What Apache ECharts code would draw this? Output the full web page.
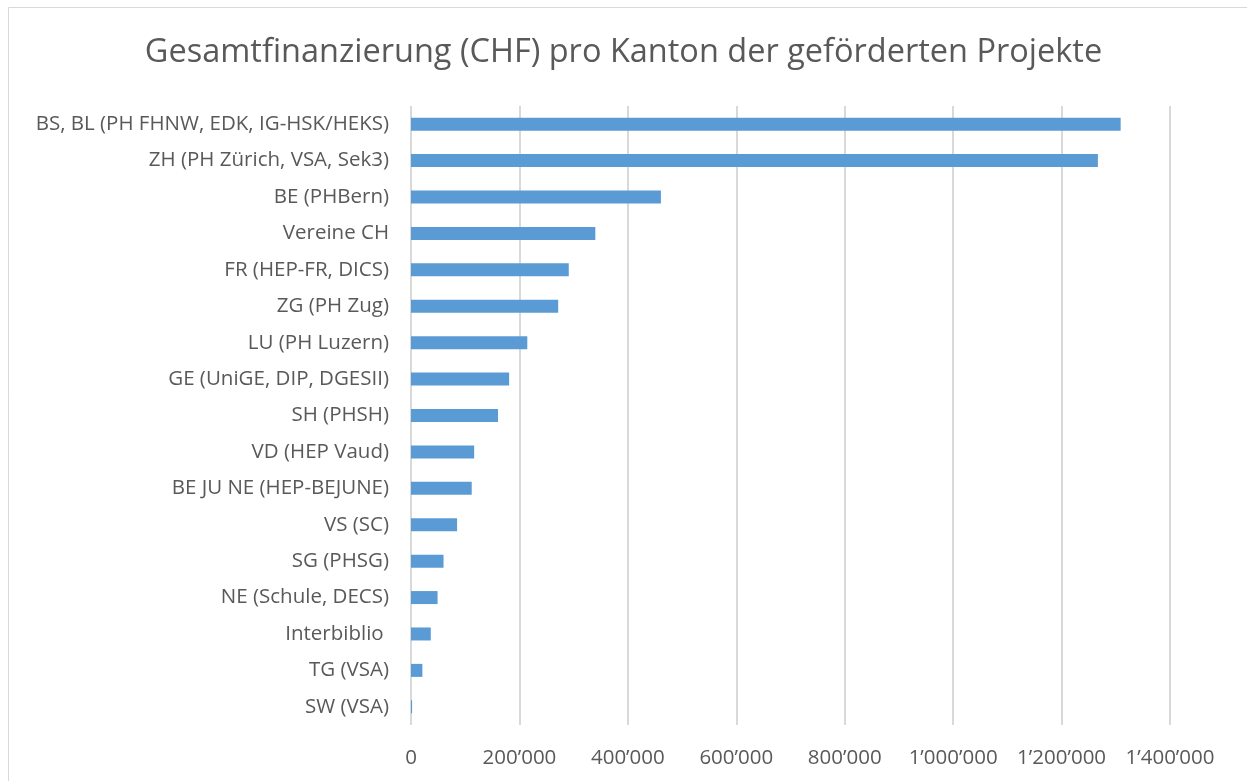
<!DOCTYPE html>
<html>
<head>
<meta charset="utf-8">
<script src="https://cdn.jsdelivr.net/npm/echarts@6/dist/echarts.min.js"></script>
<style>html,body{margin:0;padding:0;background:#fff}#c{width:1247px;height:781px}</style>
</head>
<body>
<div id="c"></div>
<script>
const categories = [
  "BS, BL (PH FHNW, EDK, IG-HSK/HEKS)",
  "ZH (PH Zürich, VSA, Sek3)",
  "BE (PHBern)",
  "Vereine CH",
  "FR (HEP-FR, DICS)",
  "ZG (PH Zug)",
  "LU (PH Luzern)",
  "GE (UniGE, DIP, DGESII)",
  "SH (PHSH)",
  "VD (HEP Vaud)",
  "BE JU NE (HEP-BEJUNE)",
  "VS (SC)",
  "SG (PHSG)",
  "NE (Schule, DECS)",
  "Interbiblio ",
  "TG (VSA)",
  "SW (VSA)"
];
const values = [1309000, 1267000, 461000, 340000, 291000, 271500, 214500, 181000, 160500, 116500, 112000, 85000, 60000, 49000, 36500, 21000, 2000];
const xTicks = { min: 0, max: 1400000, interval: 200000 };

const FONT = '"Open Sans", sans-serif';
const chart = echarts.init(document.getElementById('c'), null, { renderer: 'canvas' });
function fmt(v) {
  return String(v).replace(/\B(?=(\d{3})+(?!\d))/g, '\u2019');
}
chart.setOption({
  animation: false,
  backgroundColor: '#fff',
  graphic: [{
    type: 'rect', shape: { x: 8.5, y: 7.5, width: 1260, height: 800 },
    style: { fill: 'none', stroke: '#d9d9d9', lineWidth: 1 }, silent: true
  }],
  title: {
    text: 'Gesamtfinanzierung (CHF) pro Kanton der geförderten Projekte',
    left: 'center', top: 31,
    textStyle: { fontFamily: FONT, fontSize: 32.5, fontWeight: 'normal', color: '#595959' }
  },
  grid: { left: 411, right: 77, top: 106, bottom: 56, containLabel: false },
  xAxis: {
    type: 'value', min: xTicks.min, max: xTicks.max, interval: xTicks.interval,
    axisLine: { show: false }, axisTick: { show: false },
    axisLabel: { formatter: fmt, fontFamily: FONT, fontSize: 20.5, color: '#595959', margin: 23 },
    splitLine: { lineStyle: { color: '#d9d9d9', width: 2 } }
  },
  yAxis: {
    type: 'category', data: categories, inverse: true,
    axisLine: { show: false }, axisTick: { show: false },
    axisLabel: { fontFamily: FONT, fontSize: 20.5, color: '#595959', margin: 22 }
  },
  series: [{
    type: 'bar', data: values, barWidth: 13,
    itemStyle: { color: '#5B9BD5' }
  }]
});
</script>
</body>
</html>
